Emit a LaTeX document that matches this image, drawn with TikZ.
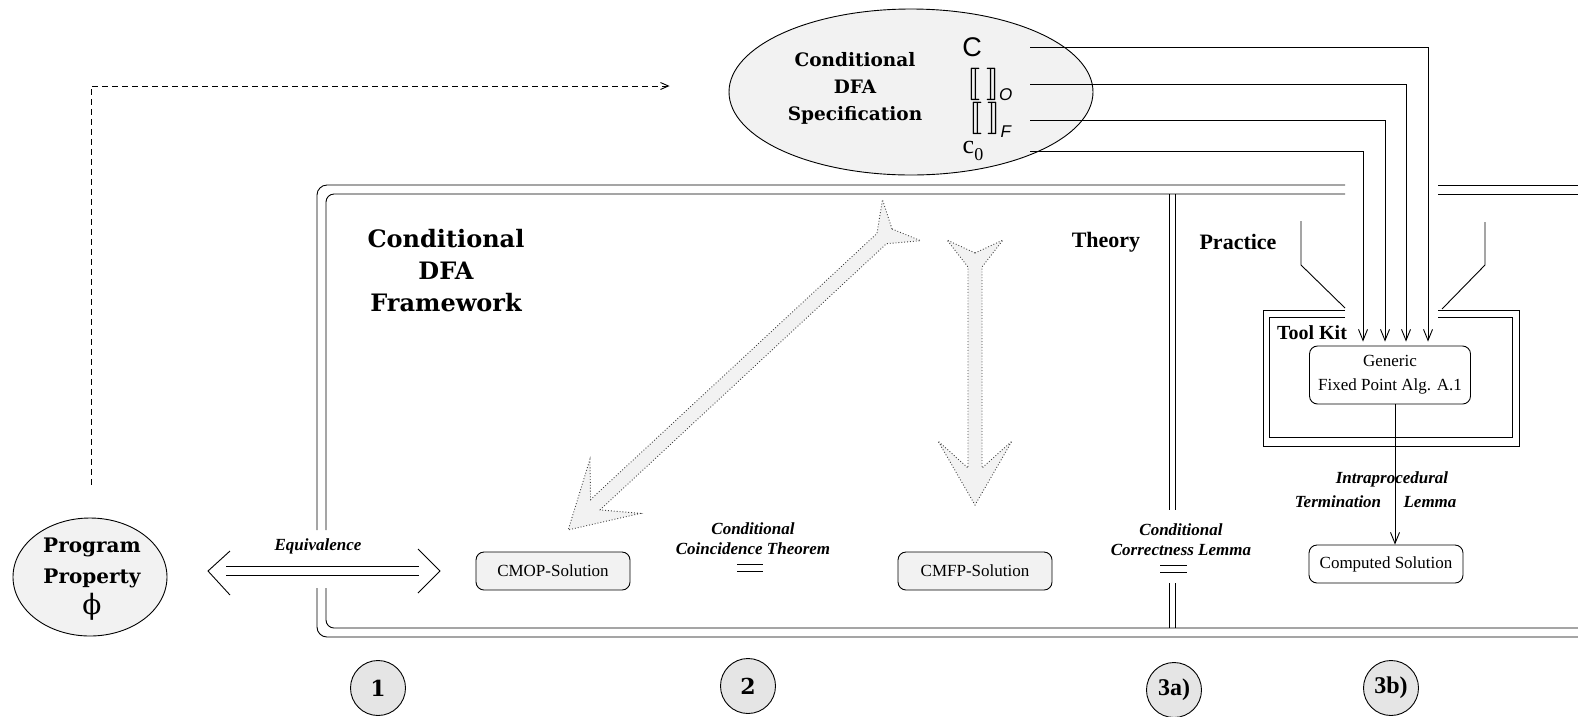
\documentclass[tikz,border=0pt]{standalone}
\usepackage{fontspec}
\usepackage{amsmath}
\usepackage{stmaryrd}
\usepackage{graphicx}
\setmainfont{Liberation Serif}
\setsansfont{Liberation Sans}
\newfontfamily\headfont{DejaVu Serif}
\usetikzlibrary{shapes.geometric,arrows.meta,calc}

\tikzset{
  box/.style={draw, rounded corners=8pt, minimum width=154pt, minimum height=38pt,
    font=\fontsize{17}{24}\selectfont, align=center},
  solbox/.style={box, fill=black!5},
  lbl/.style={font=\fontsize{17}{20}\selectfont\bfseries\itshape, align=center},
  head/.style={font=\fontsize{22}{26}\selectfont\bfseries},
  bighead/.style={font=\headfont\bfseries, align=center},
  symb/.style={font=\sffamily\fontsize{24}{28}\selectfont, inner sep=0pt},
  numcirc/.style={circle, draw, fill=black!10, minimum size=55pt, inner sep=0pt},
  bigarrow/.style={draw=black!75, dotted, fill=black!5},
  feed/.style={-{Straight Barb[length=11pt,width=9pt]}},
}

\newcommand{\sembr}{\scalebox{1.3}{$\llbracket\,\rrbracket$}}

% fat dotted arrow: tail fork at #1, direction #2, length #3
\newcommand{\fatarrow}[3]{%
  \begin{scope}[shift={#1}, rotate=#2]
    \path[bigarrow] (0,0) -- (-13,-28) -- (14,-7) -- (#3-37,-7) -- (#3-64,-37)
      -- (#3,0) -- (#3-64,37) -- (#3-37,7) -- (14,7) -- (-13,28) -- cycle;
  \end{scope}}

\begin{document}
\begin{tikzpicture}[x=1pt, y=-1pt, line width=0.9pt]
  \useasboundingbox (0,0) rectangle (1578,716);

  % specification
  \node[ellipse, draw, fill=black!5, minimum width=364pt, minimum height=166pt] (spec) at (911,92) {};
  \node[bighead, font=\headfont\bfseries\fontsize{18.5}{27}\selectfont] (spectxt) at (855,88)
    {Conditional\\DFA\\Specification};
  \node[symb, font=\sffamily\fontsize{27}{30}\selectfont] (sC) at (972,47) {C};
  \node[symb] (sO) at (990,84) {\sembr\raisebox{-8pt}{\fontsize{17}{17}\selectfont\itshape O}};
  \node[symb] (sF) at (990,120) {\sembr\raisebox{-11pt}{\fontsize{17}{17}\selectfont\itshape F}};
  \node[symb, font=\rmfamily\fontsize{26}{28}\selectfont] (sc) at (973,151) {c\raisebox{-7pt}{\fontsize{18}{18}\selectfont 0}};
  \coordinate (ls) at (1030,0);

  % program property
  \node[ellipse, draw, fill=black!5, minimum width=154pt, minimum height=118pt] (prop) at (90,577) {};
  \node[bighead, font=\headfont\bfseries\fontsize{20}{31}\selectfont] (proptxt) at (92,579)
    {Program\\Property\\\mdseries\fontsize{28}{31}\selectfont\symbol{"03D5}};
  \coordinate (dashend) at ($(spec.west)+(-59,-6)$);
  \draw[dash pattern=on 6pt off 4pt, -{Straight Barb[length=8pt,width=7pt]}]
    ($(prop.north)+(1,-33)$) |- (dashend);

  % framework frame
  \draw[rounded corners=10pt] (1345,185) -- (317,185) -- (317,530);
  \draw[rounded corners=10pt] (317,588) -- (317,637) -- (1578,637);
  \draw (1438,185) -- (1578,185);
  \draw[rounded corners=8pt] (1345,194) -- (326,194) -- (326,530);
  \draw[rounded corners=8pt] (326,588) -- (326,628) -- (1578,628);
  \draw (1438,194) -- (1578,194);
  \node[bighead, font=\headfont\bfseries\fontsize{24}{32}\selectfont] (fw) at (446,271)
    {Conditional\\DFA\\Framework};

  % theory / practice
  \draw (1169,194) -- (1169,510);
  \draw (1175,194) -- (1175,510);
  \draw (1169,583) -- (1169,628);
  \draw (1175,583) -- (1175,628);
  \node[head] (theory) at (1106,242) {Theory};
  \node[head] (practice) at (1238,242) {Practice};

  % solutions
  \node[solbox] (cmop) at (553,571) {CMOP-Solution};
  \node[solbox] (cmfp) at (975,571) {CMFP-Solution};
  \node[lbl] (cct) at (753,539) {Conditional\\Coincidence Theorem};
  \draw (737,564) -- (763,564);
  \draw (737,571) -- (763,571);
  \node[lbl] (ccl) at (1181,540) {Conditional\\Correctness Lemma};
  \draw (1160,565) -- (1187,565);
  \draw (1160,572) -- (1187,572);

  % equivalence
  \coordinate (eqL) at (208,571);
  \coordinate (eqR) at (440,571);
  \draw ($(eqL)+(22,-20)$) -- (eqL) -- ++(22,24);
  \draw ($(eqR)+(-22,-22)$) -- (eqR) -- ++(-22,22);
  \draw ($(eqL)+(18,-4.5)$) -- ($(eqR)+(-21,-4.5)$);
  \draw ($(eqL)+(18,4.5)$) -- ($(eqR)+(-21,4.5)$);
  \node[lbl] (equiv) at (318,546) {Equivalence};

  % fat arrows
  \fatarrow{(975,253)}{-90}{252}
  \fatarrow{(892,229)}{222.9}{442}

  % tool kit
  \draw (1345,310) -- (1263,310) -- (1263,446) -- (1519,446) -- (1519,310) -- (1438,310);
  \draw (1345,317) -- (1269,317) -- (1269,437) -- (1512,437) -- (1512,317) -- (1438,317);
  \draw (1301,221) -- (1301,265) -- (1345,308);
  \draw (1485,222) -- (1485,265) -- (1442,309);
  \node[font=\fontsize{20}{24}\selectfont\bfseries] (tk) at (1312,333) {Tool Kit};
  \node[box, minimum width=161pt, minimum height=58pt] (gen) at (1390,375)
    {Generic\\Fixed Point Alg. A.1};
  \node[box] (csol) at (1386,564) {Computed Solution};

  \draw[feed] (sC -| ls) -| ($(gen.north)+(38,-4)$);
  \draw[feed] (sO -| ls) -| ($(gen.north)+(16,-4)$);
  \draw[feed] (sF -| ls) -| ($(gen.north)+(-5,-4)$);
  \draw[feed] (sc -| ls) -| ($(gen.north)+(-27,-4)$);

  \coordinate (gs) at ($(gen.south)+(5,0)$);
  \draw[feed] (gs) -- (gs |- csol.north);
  \node[lbl] (itl) at (1392,479) {Intraprocedural};
  \node[lbl] (term) at (1338,502) {Termination};
  \node[lbl] (lem) at (1430,502) {Lemma};

  % steps
  \node[numcirc, font=\headfont\bfseries\fontsize{22}{24}\selectfont] (n1) at (378,688) {1};
  \node[numcirc, font=\headfont\bfseries\fontsize{22}{24}\selectfont] (n2) at (748,686) {2};
  \node[numcirc, font=\bfseries\fontsize{24}{26}\selectfont] (n3a) at (1174,690) {3a)};
  \node[numcirc, font=\bfseries\fontsize{24}{26}\selectfont] (n3b) at (1391,688) {3b)};
\end{tikzpicture}
\end{document}
